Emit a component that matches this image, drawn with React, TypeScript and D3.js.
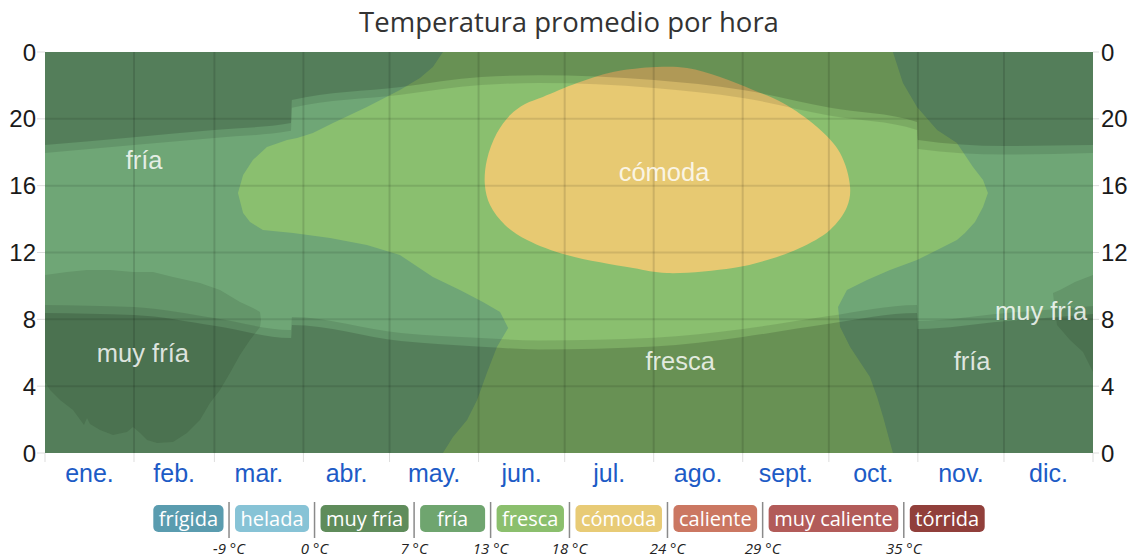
import { useEffect, useRef } from "react";
import * as d3 from "d3";

const title = "Temperatura promedio por hora";

const monthNames = ["ene.", "feb.", "mar.", "abr.", "may.", "jun.", "jul.", "ago.", "sept.", "oct.", "nov.", "dic."];
const monthStarts = [0, 31, 59, 90, 120, 151, 181, 212, 243, 273, 304, 334, 365];

const hourTicks = [0, 4, 8, 12, 16, 20, 24];
const hourLabels = ["0", "4", "8", "12", "16", "20", "0"];

// zone outlines as [day of year, hour]
const muyFriaWinter: [number, number][] = [
  [0, 10.65], [7.66, 10.83], [14.63, 10.95], [22.64, 10.95], [30.65, 10.83], [37.61, 10.83],
  [44.58, 10.53], [53.98, 10.17], [60.95, 9.76], [67.91, 9.04], [72.44, 8.68], [74.88, 8.44],
  [75.23, 7.96], [74.88, 7.54], [71.4, 6.76], [67.91, 5.87], [64.43, 4.79], [60.95, 3.77],
  [57.47, 2.99], [53.98, 1.98], [49.46, 1.2], [44.58, 0.66], [39.01, 0.6], [35.53, 0.78],
  [33.09, 1.2], [30.65, 1.56], [28.56, 1.26], [23.68, 1.08], [19.16, 1.38], [15.67, 1.74],
  [14.63, 2.09], [13.58, 1.68], [9.75, 2.57], [5.22, 3.17], [1.74, 3.77], [0, 4.25],
];

const muyFriaDec: [number, number][] = [
  [365, 10.65], [358.73, 10.23], [353.5, 9.76], [351.06, 9.58], [351.76, 8.56], [352.46, 7.66],
  [356.99, 6.76], [361.51, 6.04], [365, 4.85],
];

const frescaZone: [number, number][] = [
  [67.2, 15.56], [69.0, 16.64], [72.4, 17.54], [77.3, 18.31], [84.3, 18.73], [87.8, 18.85],
  [93.3, 19.15], [100.3, 19.75], [106.2, 20.23], [112.1, 20.71], [123.6, 21.73], [130.6, 22.44],
  [135.1, 23.1], [138.6, 24], [295.3, 24], [298.8, 22.14], [303.7, 20.71], [310.7, 19.33],
  [317.6, 18.55], [323.2, 17.12], [326.7, 16.34], [328.4, 15.56], [326.7, 14.72], [323.9, 13.83],
  [320.4, 13.17], [317.6, 12.75], [310.7, 12.15], [303.7, 11.55], [294.3, 10.95], [286.3, 10.35],
  [279.3, 9.76], [276.2, 8.74], [276.9, 7.54], [280.4, 6.34], [287.3, 4.55], [289.8, 3.35],
  [291.9, 2.15], [295.3, 0], [138.6, 0], [142.1, 0.96], [147.0, 1.98], [150.5, 3.17],
  [153.9, 4.79], [157.4, 6.34], [161.3, 7.48], [158.5, 8.44], [152.5, 9.04], [144.5, 9.76],
  [135.1, 10.53], [123.6, 11.85], [112.1, 12.45], [99.3, 12.87], [86.4, 13.17], [75.9, 13.35],
  [71.4, 13.83], [69.0, 14.36],
];

const comodaZone: [number, number][] = [
  [153.2, 16.04], [153.9, 17.54], [157.4, 19.15], [162.0, 20.23], [167.2, 20.89], [173.4, 21.31],
  [185.3, 22.14], [197.8, 22.8], [213.1, 23.1], [223.6, 23.04], [235.1, 22.5], [246.6, 21.73],
  [257.0, 20.95], [268.9, 19.51], [276.9, 17.96], [280.4, 15.92], [279.3, 14.72], [273.4, 13.35],
  [262.9, 12.27], [251.5, 11.55], [239.6, 11.07], [216.6, 10.77], [204.8, 11.07], [181.8, 11.85],
  [167.9, 12.75], [160.2, 13.65], [155.0, 14.84],
];

// daylight (hours), with the clock changes
const sunDays = [0, 31, 59, 85.7, 86, 124, 152, 172, 212, 243, 273, 303.7, 304, 334, 365];
const sunrise = [8.86, 8.74, 8.08, 7.36, 8.14, 7.18, 6.88, 6.74, 6.9, 7.42, 8.2, 8.86, 7.9, 8.36, 8.8];
const dawn = [8.38, 8.26, 7.62, 6.88, 7.66, 6.7, 6.36, 6.2, 6.38, 6.95, 7.74, 8.38, 7.42, 7.88, 8.32];
const sunset = [17.96, 18.43, 18.86, 19.28, 20.66, 21.44, 22.02, 22.14, 21.85, 21.25, 20.2, 19.33, 18.19, 17.86, 17.96];
const dusk = [18.43, 18.9, 19.33, 19.75, 21.13, 21.91, 22.5, 22.61, 22.32, 21.73, 20.68, 19.81, 18.73, 18.37, 18.43];

const zoneText = ["fría", "cómoda", "muy fría", "fresca", "fría", "muy fría"];
const zoneDay = [34.5, 215.6, 34.1, 221.2, 322.9, 346.9];
const zoneHour = [17.54, 16.82, 5.99, 5.51, 5.51, 8.5];

const bandNames = ["frígida", "helada", "muy fría", "fría", "fresca", "cómoda", "caliente", "muy caliente", "tórrida"];
const bandColors = ["#5a9caf", "#87c3d6", "#5f8c5b", "#6fa56f", "#8bbf6d", "#e8cb76", "#cb7762", "#b25b59", "#913f3b"];
const bandLimits = ["-9 °C", "0 °C", "7 °C", "13 °C", "18 °C", "24 °C", "29 °C", "35 °C"];

const zoneFill = { muyFria: "#64966a", fria: "#6fa676", fresca: "#8abf6f", comoda: "#e7c972" };

function App() {
  const svgRef = useRef<SVGSVGElement | null>(null);
  const width = 1136;
  const height = 560;

  useEffect(() => {
    if (!svgRef.current) return;
    const svg = d3.select(svgRef.current);
    svg.selectAll("*").remove();

    const margin = { left: 45, right: 43, top: 52, bottom: 107 };
    const x = d3.scaleLinear().domain([0, 365]).range([margin.left, width - margin.right]);
    const y = d3.scaleLinear().domain([0, 24]).range([height - margin.bottom, margin.top]);

    svg.append("defs").append("clipPath").attr("id", "plot-clip")
      .append("rect")
      .attr("x", x(0)).attr("y", y(24))
      .attr("width", x(365) - x(0)).attr("height", y(0) - y(24));

    const plot = svg.append("g").attr("clip-path", "url(#plot-clip)");

    plot.append("rect")
      .attr("x", x(0)).attr("y", y(24))
      .attr("width", x(365) - x(0)).attr("height", y(0) - y(24))
      .attr("fill", zoneFill.fria);

    const poly = d3.line<[number, number]>().x((d) => x(d[0])).y((d) => y(d[1])).curve(d3.curveLinearClosed);
    const smooth = d3.line<[number, number]>().x((d) => x(d[0])).y((d) => y(d[1])).curve(d3.curveCatmullRomClosed.alpha(0.5));

    plot.append("path").attr("d", poly(muyFriaWinter)).attr("fill", zoneFill.muyFria);
    plot.append("path").attr("d", poly(muyFriaDec)).attr("fill", zoneFill.muyFria);
    plot.append("path").attr("d", poly(frescaZone)).attr("fill", zoneFill.fresca);
    plot.append("path").attr("d", smooth(comodaZone)).attr("fill", zoneFill.comoda);

    // twilight and night shading
    const idx = d3.range(sunDays.length);
    const evening = (h: number[]) =>
      d3.area<number>().x((i) => x(sunDays[i])).y0(y(24)).y1((i) => y(h[i])).curve(d3.curveMonotoneX)(idx);
    const morning = (h: number[]) =>
      d3.area<number>().x((i) => x(sunDays[i])).y0(y(0)).y1((i) => y(h[i])).curve(d3.curveMonotoneX)(idx);

    plot.append("path").attr("d", evening(sunset)).attr("fill", "#000").attr("fill-opacity", 0.1);
    plot.append("path").attr("d", evening(dusk)).attr("fill", "#000").attr("fill-opacity", 0.15);
    plot.append("path").attr("d", morning(sunrise)).attr("fill", "#000").attr("fill-opacity", 0.1);
    plot.append("path").attr("d", morning(dawn)).attr("fill", "#000").attr("fill-opacity", 0.15);

    // grid
    plot.selectAll(".vgrid")
      .data(monthStarts.slice(1, -1))
      .join("line")
      .attr("x1", (d) => x(d)).attr("x2", (d) => x(d))
      .attr("y1", y(24)).attr("y2", y(0))
      .attr("stroke", "#000").attr("stroke-opacity", 0.12).attr("stroke-width", 2);

    plot.selectAll(".hgrid")
      .data(hourTicks.slice(1, -1))
      .join("line")
      .attr("x1", x(0)).attr("x2", x(365))
      .attr("y1", (d) => y(d)).attr("y2", (d) => y(d))
      .attr("stroke", "#000").attr("stroke-opacity", 0.1).attr("stroke-width", 2);

    // zone labels
    plot.selectAll(".zone")
      .data(zoneText)
      .join("text")
      .attr("x", (_, i) => x(zoneDay[i]))
      .attr("y", (_, i) => y(zoneHour[i]))
      .attr("dy", "0.36em")
      .attr("text-anchor", "middle")
      .attr("font-family", "'Liberation Sans', Arial, sans-serif")
      .attr("font-size", 25.5)
      .attr("fill", "#fff")
      .attr("fill-opacity", 0.82)
      .text((d) => d);

    // month ticks and labels
    svg.append("g")
      .selectAll("line")
      .data(monthStarts)
      .join("line")
      .attr("x1", (d) => x(d)).attr("x2", (d) => x(d))
      .attr("y1", y(0)).attr("y2", y(0) + 9)
      .attr("stroke", "#ddd").attr("stroke-width", 1);

    svg.append("g")
      .selectAll("text")
      .data(monthNames)
      .join("text")
      .attr("x", (_, i) => x((monthStarts[i] + monthStarts[i + 1]) / 2))
      .attr("y", y(0) + 29)
      .attr("text-anchor", "middle")
      .attr("font-family", "'Liberation Sans', Arial, sans-serif")
      .attr("font-size", 25)
      .attr("fill", "#1d5bc6")
      .text((d) => d);

    // hour axes on both sides
    const sides = [
      { x0: x(0) - 8, x1: x(0), tx: x(0) - 9, anchor: "end" },
      { x0: x(365), x1: x(365) + 6, tx: x(365) + 8, anchor: "start" },
    ];
    sides.forEach((s) => {
      const g = svg.append("g");
      g.selectAll("line")
        .data(hourTicks)
        .join("line")
        .attr("x1", s.x0).attr("x2", s.x1)
        .attr("y1", (d) => y(d)).attr("y2", (d) => y(d))
        .attr("stroke", "#ddd");
      g.selectAll("text")
        .data(hourTicks)
        .join("text")
        .attr("x", s.tx)
        .attr("y", (d) => y(d))
        .attr("dy", "0.36em")
        .attr("text-anchor", s.anchor)
        .attr("font-family", "'Liberation Sans', Arial, sans-serif")
        .attr("font-size", 24)
        .attr("fill", "#1a1a1a")
        .text((_, i) => hourLabels[i]);
    });

    // title
    svg.append("text")
      .attr("x", (x(0) + x(365)) / 2)
      .attr("y", 32)
      .attr("text-anchor", "middle")
      .attr("font-family", "'Open Sans', sans-serif")
      .attr("font-size", 27.5)
      .attr("fill", "#333")
      .text(title);

    // legend
    const legend = svg.append("g");
    let cursor = 0;
    bandNames.forEach((name, i) => {
      const rect = legend.append("rect")
        .attr("y", 505).attr("height", 27).attr("rx", 5)
        .attr("fill", bandColors[i]);
      const t = legend.append("text")
        .attr("y", 526)
        .attr("text-anchor", "middle")
        .attr("font-family", "'Open Sans', sans-serif")
        .attr("font-size", 20)
        .attr("fill", "#fff")
        .text(name);
      const tw = (t.node() as SVGTextElement).getComputedTextLength();
      const w = Math.max(tw + 11, 65);
      rect.attr("x", cursor).attr("width", w);
      t.attr("x", cursor + w / 2);
      cursor += w;
      if (i < bandLimits.length) {
        const sx = cursor + 5.5;
        legend.append("line")
          .attr("x1", sx).attr("x2", sx)
          .attr("y1", 502).attr("y2", 538)
          .attr("stroke", "#8a8a8a").attr("stroke-width", 1.5);
        legend.append("text")
          .attr("x", sx).attr("y", 554)
          .attr("text-anchor", "middle")
          .attr("font-family", "'Open Sans', sans-serif")
          .attr("font-style", "italic")
          .attr("font-size", 15)
          .attr("fill", "#222")
          .text(bandLimits[i]);
        cursor = sx + 6;
      }
    });
    legend.attr("transform", `translate(${(x(0) + x(365)) / 2 - cursor / 2}, 0)`);
  }, []);

  return (
    <svg
      ref={svgRef}
      width={width}
      height={height}
      viewBox={`0 0 ${width} ${height}`}
      style={{ position: "absolute", left: 0, top: 0, background: "#fff" }}
    ></svg>
  );
}

export default App;
